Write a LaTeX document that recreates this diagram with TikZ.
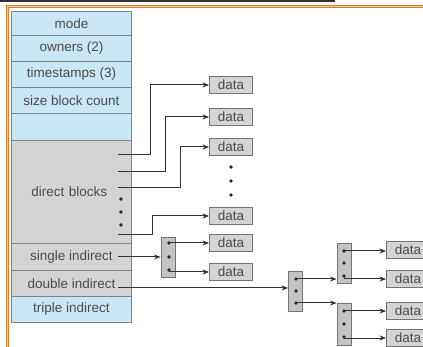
\documentclass[tikz,border=0pt]{standalone}
\usepackage{fontspec}
\setmainfont{Liberation Sans}
\usetikzlibrary{arrows.meta}
\definecolor{lblue}{HTML}{C9E7F6}
\definecolor{lgray}{HTML}{D4D4D4}
\definecolor{igray}{HTML}{C4C4C4}
\definecolor{bord}{HTML}{7A8590}
\definecolor{txt}{HTML}{4A4A4A}
\definecolor{orng}{HTML}{D98030}
\definecolor{orngl}{HTML}{F2C9A0}
\newcommand\tfont{\fontsize{13.5}{15}\selectfont}
\begin{document}
\begin{tikzpicture}[x=1pt,y=-1pt, >={Stealth[length=6.5pt,width=5pt]},
 cell/.style={draw=bord, line width=0.9pt, minimum width=120pt, inner sep=0pt, anchor=north west, text=txt, font=\tfont},
 datab/.style={draw=black!55, fill=lgray, line width=0.9pt, minimum width=43pt, minimum height=17pt, inner sep=0pt, text=txt, font=\tfont},
 idx/.style={draw=black!55, fill=igray, line width=0.9pt, minimum width=14pt, inner sep=0pt},
 conn/.style={draw=black!80, line width=1pt},
 arr/.style={conn, ->},
 dotm/.style={circle, fill=black!85, inner sep=0pt, minimum size=3.8pt}
]
\useasboundingbox (0,0) rectangle (423,347);
\clip (0,0) rectangle (423,347);
% frame
\draw[black!80, line width=2pt] (0,1) -- (335,1);
\draw[orng, line width=3pt] (423,6.5) -- (7.5,6.5) -- (7.5,347);
\draw[orngl, line width=0.8pt] (423,6.5) -- (7.5,6.5) -- (7.5,347);
% inode table
\node[cell, fill=lblue, minimum height=24pt] (mode) at (11,11) {mode};
\node[cell, fill=lblue, minimum height=26pt] (own) at (11,35) {owners (2)};
\node[cell, fill=lblue, minimum height=26pt] (ts) at (11,61) {timestamps (3)};
\node[cell, fill=lblue, minimum height=26pt] (size) at (11,87) {size block count};
\node[cell, fill=lblue, minimum height=27pt] (blank) at (11,113) {};
\node[cell, fill=lgray, minimum height=103pt, text width=118pt, align=left] (direct) at (11,140) {\hspace*{19pt}direct blocks};
\node[cell, fill=lgray, minimum height=27pt] (single) at (11,243) {single indirect};
\node[cell, fill=lgray, minimum height=26pt] (double) at (11,270) {double indirect};
\node[cell, fill=lblue, minimum height=26pt] (triple) at (11,296) {triple indirect};
% dots in direct blocks
\node[dotm] (dbd1) at (121,199) {};
\node[dotm] (dbd2) at (121,212) {};
\node[dotm] (dbd3) at (121,225) {};
% data column 1
\node[datab] (dA) at (231,85) {data};
\node[datab] (dB) at (231,117) {data};
\node[datab] (dC) at (231,147) {data};
\node[dotm] (cd1) at (231,167) {};
\node[dotm] (cd2) at (231,181) {};
\node[dotm] (cd3) at (231,195) {};
\node[datab] (dD) at (231,216) {data};
\node[datab] (dS1) at (231,243) {data};
\node[datab] (dS2) at (231,272) {data};
% index blocks
\node[idx, minimum height=40pt] (iS) at (168,257) {};
\node[dotm] (s1) at (169,243) {};
\node[dotm] (s2) at (169,257) {};
\node[dotm] (s3) at (169,270) {};
\node[idx, minimum height=40pt] (iD) at (295.5,291) {};
\node[dotm] (t1) at (296,279) {};
\node[dotm] (t2) at (296,291) {};
\node[dotm] (t3) at (296,303) {};
\node[idx, minimum height=40pt] (iD1) at (344,263) {};
\node[dotm] (u1) at (344,251) {};
\node[dotm] (u2) at (344,263) {};
\node[dotm] (u3) at (344,276) {};
\node[idx, minimum height=42pt] (iD2) at (344,324) {};
\node[dotm] (v1) at (344,311) {};
\node[dotm] (v2) at (344,324) {};
\node[dotm] (v3) at (344,337) {};
% data column 2
\node[datab] (e1) at (408,250) {data};
\node[datab] (e2) at (408,279) {data};
\node[datab] (e3) at (408,311) {data};
\node[datab] (e4) at (408,338) {data};
% start points
\coordinate (p1) at (118,155);
\coordinate (p2) at (118,172);
\coordinate (p3) at (118,188);
\coordinate (p4) at (118,235);
\coordinate (ps) at (118,257);
\coordinate (pd) at (118,288);
% connectors
\draw[arr] (p1) -- ++(32,0) |- (dA.west);
\draw[arr] (p2) -- ++(47,0) |- (dB.west);
\draw[arr] (p3) -- ++(62,0) |- (dC.west);
\draw[arr] (p4) -- ++(34,0) |- (dD.west);
\draw[arr] (ps) -- (ps -| iS.west);
\draw[arr] (s1.center) -- (s1.center -| dS1.west);
\draw[arr] (s3.center) |- (dS2.west);
\draw[arr] (pd) -- (pd -| iD.west);
\draw[arr] (t1.center) -- (t1.center -| iD1.west);
\draw[arr] (t3.center) -- (t3.center -| iD2.west);
\draw[arr] (u1.center) -- (u1.center -| e1.west);
\draw[arr] (u3.center) |- (e2.west);
\draw[arr] (v1.center) -- (v1.center -| e3.west);
\draw[arr] (v3.center) |- (e4.west);
\end{tikzpicture}
\end{document}
